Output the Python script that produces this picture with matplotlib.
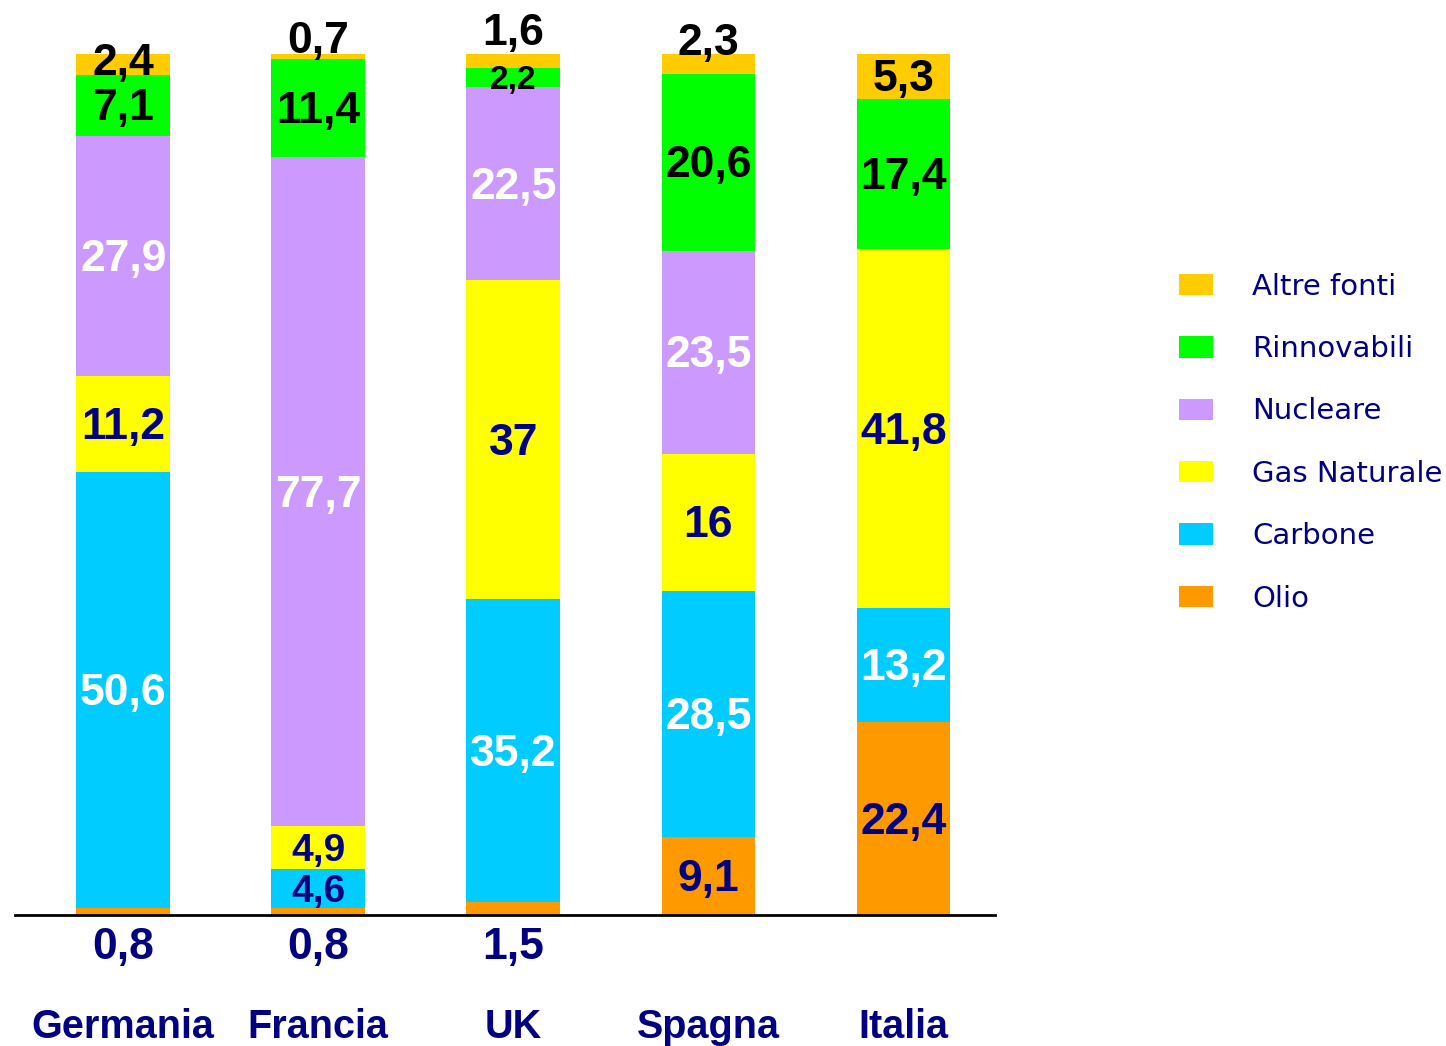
import matplotlib.pyplot as plt
import numpy as np

countries = ["Germania", "Francia", "UK", "Spagna", "Italia"]
sources = ["Olio", "Carbone", "Gas Naturale", "Nucleare", "Rinnovabili", "Altre fonti"]

olio = [0.8, 0.8, 1.5, 9.1, 22.4]
carbone = [50.6, 4.6, 35.2, 28.5, 13.2]
gas = [11.2, 4.9, 37.0, 16.0, 41.8]
nucleare = [27.9, 77.7, 22.5, 23.5, 0.0]
rinnovabili = [7.1, 11.4, 2.2, 20.6, 17.4]
altre = [2.4, 0.7, 1.6, 2.3, 5.3]

NAVY = "#000080"
colors = ["#FF9900", "#00CCFF", "#FFFF00", "#CC99FF", "#00FF00", "#FFCC00"]
label_colors = [NAVY, "white", NAVY, "white", "black", "black"]
FS = 32

# label tweaks: (series index, country index) -> (dy in points, color, fontsize)
nudges = {
    (0, 0): (-21, NAVY, FS), (0, 1): (-21, NAVY, FS), (0, 2): (-21, NAVY, FS),
    (1, 1): (0, NAVY, 28),
    (2, 1): (0, NAVY, 28),
    (4, 2): (0, "black", 24),
    (5, 0): (3, "black", FS), (5, 1): (13, "black", FS),
    (5, 2): (22, "black", FS), (5, 3): (17, "black", FS),
}


def fmt(v):
    s = f"{v:.1f}".replace(".", ",")
    return s[:-2] if s.endswith(",0") else s


series = [olio, carbone, gas, nucleare, rinnovabili, altre]

fig = plt.figure(figsize=(14.46, 10.46), dpi=100)
ax = fig.add_axes([15 / 1446, 131 / 1046, 980 / 1446, 861 / 1046])

x = np.arange(len(countries))
bottom = np.zeros(len(countries))
handles = []
for i, (vals, name) in enumerate(zip(series, sources)):
    vals = np.array(vals)
    bars = ax.bar(x, vals, 0.48, bottom=bottom, color=colors[i], label=name)
    handles.append(bars)
    for j, v in enumerate(vals):
        if v <= 0:
            continue
        dy, col, fs = nudges.get((i, j), (0, label_colors[i], FS))
        yc = bottom[j] + v / 2
        if i == 0 and (i, j) in nudges:
            yc = 0
        ax.annotate(fmt(v), (x[j], yc), xytext=(0, dy - 2.5), textcoords="offset points",
                    ha="center", va="center", fontsize=fs, fontweight="bold",
                    color=col, family="Liberation Sans")
    bottom += vals

ax.set_xlim(-0.555, 4.47)
ax.set_ylim(0, 100)
for s in ["top", "right", "left"]:
    ax.spines[s].set_visible(False)
ax.spines["bottom"].set_linewidth(2)
ax.set_yticks([])
ax.set_xticks(x)
ax.set_xticklabels(countries, fontsize=28.5, fontweight="bold", color=NAVY,
                   family="Liberation Sans")
ax.tick_params(axis="x", length=0, pad=67)

leg = fig.legend(handles[::-1], sources[::-1], loc="upper left",
                 bbox_to_anchor=(1164 / 1446, 1 - 258 / 1046), frameon=False,
                 fontsize=21, handlelength=1.17, handleheight=0.75,
                 labelspacing=1.18, handletextpad=1.35, borderpad=0)
for t in leg.get_texts():
    t.set_color(NAVY)
    t.set_family("DejaVu Sans")

fig.savefig("out.png", dpi=100)
